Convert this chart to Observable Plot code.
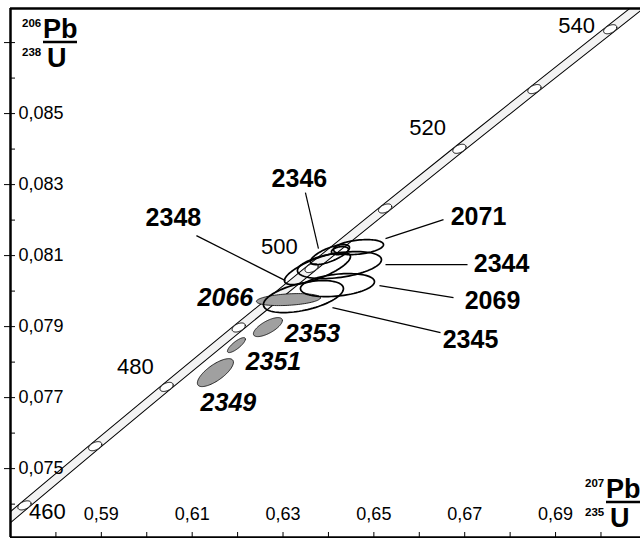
<!DOCTYPE html>
<html><head><meta charset="utf-8">
<script src="https://cdn.jsdelivr.net/npm/d3@7"></script>
<script src="https://cdn.jsdelivr.net/npm/@observablehq/plot@0.6"></script>
<style>
body{margin:0;background:#fff;}
#chart{position:relative;width:640px;height:538px;}
</style></head><body><div id="chart"></div>
<script>
// ---- Concordia (ages in Ma) ----
const concAges = [455, 460, 470, 480, 490, 500, 510, 520, 530, 540, 545];
const concX = [0.56535, 0.57307, 0.58864, 0.60436, 0.62024, 0.63628, 0.65247, 0.66883, 0.68534, 0.70203, 0.71043];
const concY = [0.073132, 0.073965, 0.075632, 0.077302, 0.078975, 0.080650, 0.082327, 0.084008, 0.085690, 0.087376, 0.088220];
const markerAges = [460, 470, 480, 490, 500, 510, 520, 530, 540];

// ---- Analyses: error ellipses (centre, half-extent in x and y, correlation) ----
const ellId    = ["2066", "2353", "2351", "2349", "2345", "2069", "2344", "2348", "2346", "2346b", "2071"];
const ellX     = [0.63119, 0.62667, 0.61974, 0.61511, 0.63449, 0.64198, 0.64242, 0.63758, 0.64033, 0.64253, 0.64661];
const ellY     = [0.079761, 0.078986, 0.078479, 0.077704, 0.079845, 0.080169, 0.080732, 0.080634, 0.081028, 0.081141, 0.081239];
const ellSx    = [0.00705, 0.00319, 0.00198, 0.00397, 0.00881, 0.00815, 0.00925, 0.00727, 0.00430, 0.00187, 0.00551];
const ellSy    = [0.000169, 0.000268, 0.000211, 0.000394, 0.000451, 0.000324, 0.000380, 0.000451, 0.000282, 0.000113, 0.000211];
const ellRho   = [0.30, 0.70, 0.81, 0.74, 0.50, 0.30, 0.40, 0.75, 0.70, 0.30, 0.33];
const ellFilled = [true, true, true, true, false, false, false, false, false, false, false];

// ---- Sample labels ----
const labText = ["2346", "2071", "2344", "2069", "2345", "2348"];
const labX = [0.63361, 0.67304, 0.67811, 0.67612, 0.67128, 0.60586];
const labY = [0.083169, 0.082099, 0.080775, 0.079732, 0.078634, 0.082070];
const itText = ["2066", "2353", "2351", "2349"];
const itX = [0.61731, 0.63648, 0.62789, 0.61797];
const itY = [0.079817, 0.078803, 0.078014, 0.076859];
const ageText = ["460", "480", "500", "520", "540"];
const ageX = [0.57811, 0.59749, 0.62921, 0.66181, 0.69463];
const ageY = [0.073789, 0.077873, 0.081254, 0.084606, 0.087479];

// ---- Leader lines ----
const leadX1 = [0.63493, 0.65256, 0.65256, 0.65123, 0.64088, 0.61093];
const leadY1 = [0.082775, 0.081479, 0.080746, 0.080155, 0.079535, 0.081563];
const leadX2 = [0.63780, 0.66533, 0.67062, 0.66753, 0.66467, 0.63053];
const leadY2 = [0.081197, 0.082014, 0.080746, 0.079817, 0.078831, 0.080296];

// ---- Axes ----
const xDomain = [0.57, 0.7087];
const yDomain = [0.07306, 0.08796];
const xTicks = [0.58, 0.59, 0.60, 0.61, 0.62, 0.63, 0.64, 0.65, 0.66, 0.67, 0.68, 0.69, 0.70];
const xLabelVals = [0.59, 0.61, 0.63, 0.65, 0.67, 0.69];
const xLabels = ["0,59", "0,61", "0,63", "0,65", "0,67", "0,69"];
const yMajor = [0.075, 0.077, 0.079, 0.081, 0.083, 0.085, 0.087];
const yMinor = [0.074, 0.076, 0.078, 0.080, 0.082, 0.084, 0.086];
const yLabelVals = [0.075, 0.077, 0.079, 0.081, 0.083, 0.085];
const yLabels = ["0,075", "0,077", "0,079", "0,081", "0,083", "0,085"];

const FONT = '"Liberation Sans", Arial, Helvetica, sans-serif';

function ellipse(id, cx, cy, sx, sy, rho, n = 90) {
  const k = Math.sqrt(1 - rho * rho), pts = [];
  for (let i = 0; i < n; i++) {
    const t = 2 * Math.PI * i / n;
    pts.push({id, x: cx + sx * Math.cos(t), y: cy + sy * (rho * Math.cos(t) + k * Math.sin(t))});
  }
  return pts;
}

const band = concAges.map((a, i) => ({age: a, x: concX[i], y: concY[i]}));
const markerPts = markerAges.flatMap(a => {
  const i = concAges.indexOf(a);
  return ellipse("m" + a, concX[i], concY[i], 0.00145, 0.000128, 0.45);
});
const filledPts = ellId.flatMap((id, i) => ellFilled[i] ? ellipse(id, ellX[i], ellY[i], ellSx[i], ellSy[i], ellRho[i]) : []);
const openPts = ellId.flatMap((id, i) => !ellFilled[i] ? ellipse(id, ellX[i], ellY[i], ellSx[i], ellSy[i], ellRho[i]) : []);
const leaders = leadX1.map((d, i) => ({x1: d, y1: leadY1[i], x2: leadX2[i], y2: leadY2[i]}));
const labs = labText.map((t, i) => ({t, x: labX[i], y: labY[i]}));
const its = itText.map((t, i) => ({t, x: itX[i], y: itY[i]}));
const agesL = ageText.map((t, i) => ({t, x: ageX[i], y: ageY[i]}));

const chart = Plot.plot({
  width: 640, height: 538,
  marginTop: 8, marginRight: 0, marginBottom: 1, marginLeft: 10,
  x: {domain: xDomain}, y: {domain: yDomain},
  style: {fontFamily: FONT, background: "white", color: "black", overflow: "visible"},
  marks: [
    Plot.line(band, {x: "x", y: "y", stroke: "black", strokeWidth: 9.5, strokeLinecap: "butt", clip: true}),
    Plot.line(band, {x: "x", y: "y", stroke: "#f3f3f3", strokeWidth: 7.5, strokeLinecap: "butt", clip: true}),
    Plot.line(markerPts, {x: "x", y: "y", z: "id", curve: "linear-closed", fill: "white", stroke: "black", strokeWidth: 1}),
    Plot.line(filledPts, {x: "x", y: "y", z: "id", curve: "linear-closed", fill: "#a0a0a0", stroke: "black", strokeWidth: 0.8}),
    Plot.line(openPts, {x: "x", y: "y", z: "id", curve: "linear-closed", fill: "none", stroke: "black", strokeWidth: 1.7}),
    Plot.link(leaders, {x1: "x1", y1: "y1", x2: "x2", y2: "y2", stroke: "black", strokeWidth: 1.2}),
    Plot.text(labs, {x: "x", y: "y", text: "t", fontSize: 25, fontWeight: "bold"}),
    Plot.text(its, {x: "x", y: "y", text: "t", fontSize: 25, fontWeight: "bold", fontStyle: "italic"}),
    Plot.text(agesL, {x: "x", y: "y", text: "t", fontSize: 22}),
    Plot.text(yLabelVals, {y: d => d, text: (d, i) => yLabels[i], frameAnchor: "left", dx: 8, textAnchor: "start", fontSize: 18}),
    Plot.text(xLabelVals, {x: d => d, text: (d, i) => xLabels[i], frameAnchor: "bottom", dy: -18, fontSize: 18}),
    Plot.axisY({anchor: "left", ticks: yMajor, tickSize: 6, tickFormat: () => "", label: null}),
    Plot.axisY({anchor: "left", ticks: yMajor.concat(yMinor), tickSize: -5, tickFormat: () => "", label: null}),
    Plot.axisX({anchor: "bottom", ticks: xTicks, tickSize: -5, tickFormat: () => "", label: null}),
    Plot.ruleX([xDomain[0]], {stroke: "black", strokeWidth: 2.5}),
    Plot.ruleY([yDomain[0]], {stroke: "black", strokeWidth: 2.5}),
    Plot.ruleY([yDomain[1]], {stroke: "black", strokeWidth: 2.5})
  ]
});
document.getElementById("chart").appendChild(chart);

// Axis titles (isotope ratios)
const svg = d3.select(chart);
const g = svg.append("g").attr("font-family", FONT).attr("font-weight", "bold")
  .attr("fill", "black").attr("text-anchor", "start");
function ratio(x0, top, sup1, sup2) {
  g.append("text").attr("x", x0).attr("y", top + 9).attr("font-size", 11.5).text(sup1);
  g.append("text").attr("x", x0 + 21).attr("y", top + 20).attr("font-size", 27).text("Pb");
  g.append("line").attr("x1", x0 + 21).attr("x2", x0 + 55).attr("y1", top + 24).attr("y2", top + 24)
    .attr("stroke", "black").attr("stroke-width", 2.5);
  g.append("text").attr("x", x0).attr("y", top + 38).attr("font-size", 11.5).text(sup2);
  g.append("text").attr("x", x0 + 25).attr("y", top + 49).attr("font-size", 27).text("U");
}
ratio(22, 18, "206", "238");
ratio(585, 478, "207", "235");
</script></body></html>
